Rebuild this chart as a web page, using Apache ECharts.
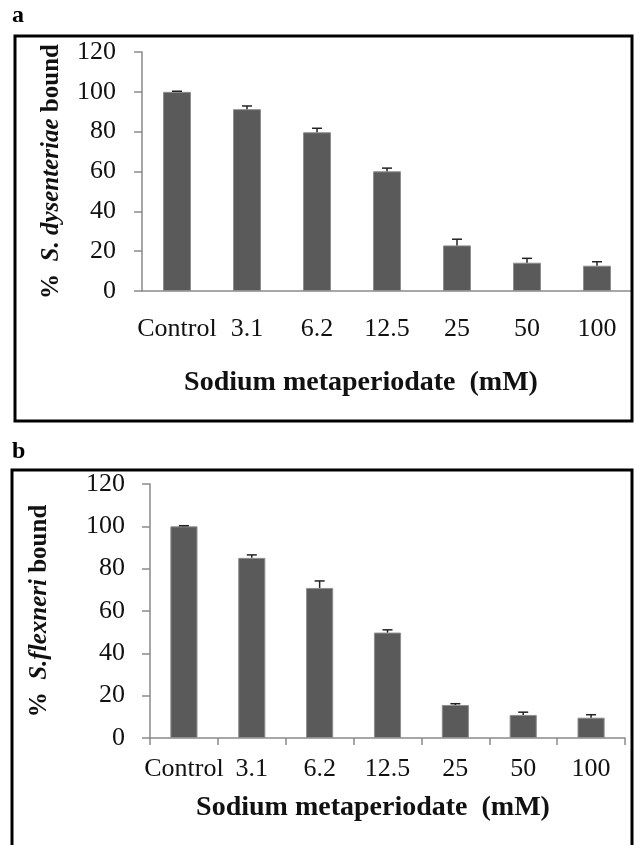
<!DOCTYPE html>
<html>
<head>
<meta charset="utf-8">
<script src="https://cdn.jsdelivr.net/npm/echarts@6/dist/echarts.min.js"></script>
<style>
html,body{margin:0;padding:0;background:#fff;}
#chart{width:635px;height:845px;}
</style>
</head>
<body>
<div id="chart"></div>
<script>
// ---- data ----
var categories = ['Control', '3.1', '6.2', '12.5', '25', '50', '100'];
var dysenteriaeValues = [100, 91.3, 79.7, 60.1, 22.9, 14.2, 12.7];
var dysenteriaeErrors = [0.3, 1.6, 2.0, 1.6, 3.1, 2.2, 2.0];
var flexneriValues = [100, 85.1, 70.9, 49.8, 15.6, 10.9, 9.6];
var flexneriErrors = [0.3, 1.4, 3.3, 1.3, 0.6, 1.3, 1.4];
var yTicks = [0, 20, 40, 60, 80, 100, 120];
var xTitle = 'Sodium metaperiodate  (mM)';

var SERIF = '"Liberation Serif","Times New Roman",serif';
var chart = echarts.init(document.getElementById('chart'));

function errData(vals, errs) {
  return vals.map(function (v, i) { return [i, v, v + errs[i]]; });
}
function errSeries(idx, vals, errs) {
  return {
    type: 'custom', xAxisIndex: idx, yAxisIndex: idx, z: 5,
    data: errData(vals, errs),
    renderItem: function (params, api) {
      var x = api.value(0);
      var p0 = api.coord([x, api.value(1)]);
      var p1 = api.coord([x, api.value(2)]);
      var hw = 5;
      var st = { stroke: '#222', lineWidth: 1.5 };
      return { type: 'group', children: [
        { type: 'line', shape: { x1: p0[0], y1: p0[1], x2: p1[0], y2: p1[1] }, style: st },
        { type: 'line', shape: { x1: p1[0] - hw, y1: p1[1], x2: p1[0] + hw, y2: p1[1] }, style: st }
      ]};
    }
  };
}
function yAx(idx, name) {
  return {
    type: 'value', gridIndex: idx, min: yTicks[0], max: yTicks[yTicks.length - 1], interval: 20,
    axisLine: { show: true, lineStyle: { color: '#8a8a8a', width: 1.5 } },
    axisTick: { show: true, length: 8, lineStyle: { color: '#8a8a8a', width: 1.5 } },
    splitLine: { show: false },
    axisLabel: { color: '#111', fontFamily: SERIF, fontSize: 26, margin: idx === 0 ? 26 : 25 },
    name: name, nameLocation: 'middle', nameRotate: 90, nameGap: idx === 0 ? 78 : 98,
    nameTextStyle: {
      fontFamily: SERIF, fontSize: 25, fontWeight: 'bold', color: '#111',
      rich: {
        n: { fontFamily: SERIF, fontSize: 25, fontWeight: 'bold', color: '#111' },
        i: { fontFamily: SERIF, fontSize: 25, fontWeight: 'bold', fontStyle: 'italic', color: '#111' }
      }
    }
  };
}
function xAx(idx, ticks, gap, shift) {
  return {
    type: 'category', gridIndex: idx, data: categories, boundaryGap: true,
    axisLine: { show: true, lineStyle: { color: '#8a8a8a', width: 1.5 } },
    axisTick: { show: ticks, length: 7, lineStyle: { color: '#8a8a8a', width: 1.5 } },
    axisLabel: { color: '#111', fontFamily: SERIF, fontSize: 26, margin: idx === 0 ? 25 : 18, interval: 0 },
    name: xTitle, nameLocation: 'middle', nameGap: gap,
    nameTextStyle: { fontFamily: SERIF, fontSize: 28, fontWeight: 'bold', color: '#111', padding: [0, shift, 0, 0] }
  };
}
function barSeries(idx, vals) {
  return {
    type: 'bar', xAxisIndex: idx, yAxisIndex: idx, data: vals, barWidth: '40%',
    itemStyle: { color: '#5a5a5a', borderColor: '#8e8e8e', borderWidth: 1 }
  };
}

chart.setOption({
  animation: false,
  backgroundColor: '#fff',
  grid: [
    { left: 142, top: 52, width: 490, height: 239 },
    { left: 150, top: 484, width: 475, height: 254 }
  ],
  xAxis: [xAx(0, false, 78, 52), xAx(1, true, 56, 29)],
  yAxis: [
    yAx(0, '{n|%  }{i|S. dysenteriae}{n| bound}'),
    yAx(1, '{n|%  }{i|S.flexneri}{n| bound}')
  ],
  series: [
    barSeries(0, dysenteriaeValues), errSeries(0, dysenteriaeValues, dysenteriaeErrors),
    barSeries(1, flexneriValues), errSeries(1, flexneriValues, flexneriErrors)
  ],
  graphic: [
    { type: 'rect', shape: { x: 15, y: 36, width: 617, height: 385 }, style: { fill: 'none', stroke: '#000', lineWidth: 3 }, z: 100 },
    { type: 'rect', shape: { x: 12, y: 470, width: 620, height: 390 }, style: { fill: 'none', stroke: '#000', lineWidth: 3 }, z: 100 },
    { type: 'text', left: 12, top: 4, style: { text: 'a', font: 'bold 24px ' + SERIF, fill: '#000' } },
    { type: 'text', left: 12, top: 440, style: { text: 'b', font: 'bold 24px ' + SERIF, fill: '#000' } }
  ]
});
</script>
</body>
</html>
